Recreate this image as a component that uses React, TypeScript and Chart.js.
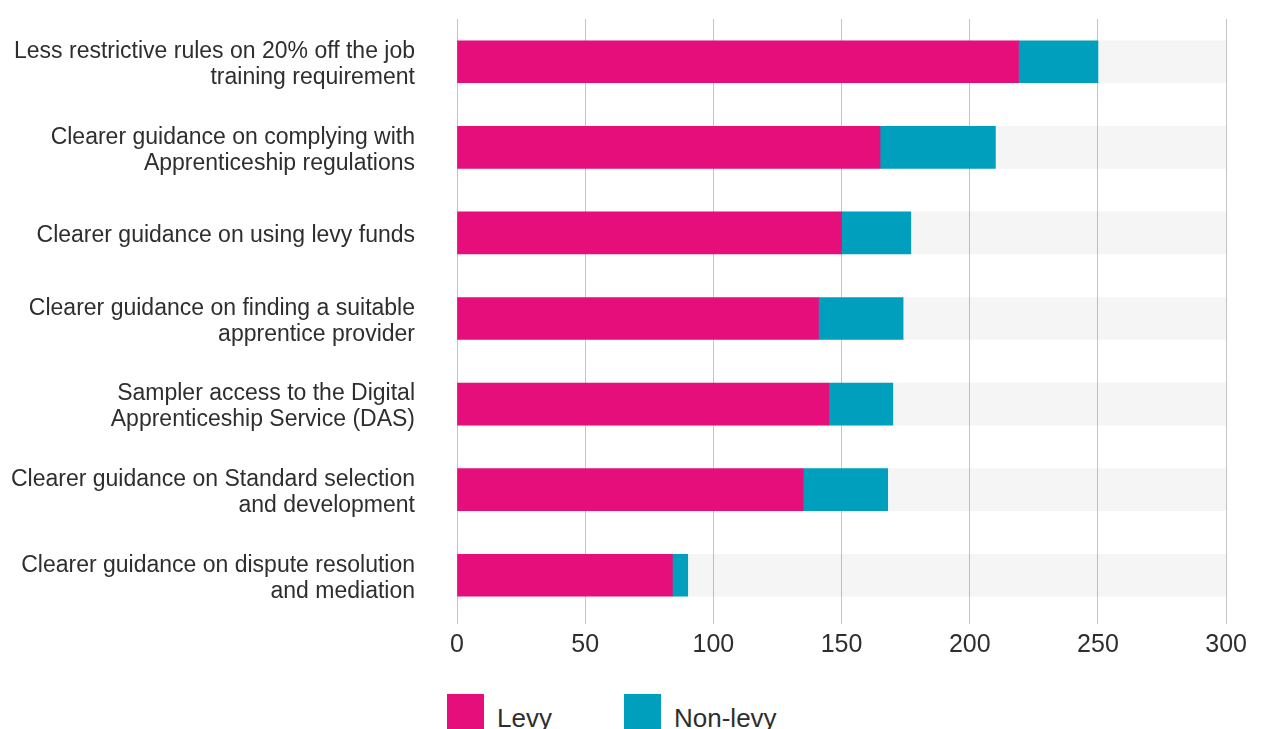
import React, { useEffect, useRef } from "react";
import { Chart, registerables } from "chart.js";

Chart.register(...registerables);

const categories: (string | string[])[] = [
  ["Less restrictive rules on 20% off the job", "training requirement"],
  ["Clearer guidance on complying with", "Apprenticeship regulations"],
  "Clearer guidance on using levy funds",
  ["Clearer guidance on finding a suitable", "apprentice provider"],
  ["Sampler access to the Digital", "Apprenticeship Service (DAS)"],
  ["Clearer guidance on Standard selection", "and development"],
  ["Clearer guidance on dispute resolution", "and mediation"],
];

const levy = [219, 165, 150, 141, 145, 135, 84];
const nonLevy = [31, 45, 27, 33, 25, 33, 6];
const trackMax = [300, 300, 300, 300, 300, 300, 300];

const xMin = 0;
const xMax = 300;
const xStep = 50;

const PINK = "#E50E7B";
const TEAL = "#009FBD";
const FONT = "'Liberation Sans', Arial, sans-serif";
const TEXT = "#2e2e2e";

export default function App() {
  const canvasRef = useRef<HTMLCanvasElement | null>(null);

  useEffect(() => {
    const ctx = canvasRef.current;
    if (!ctx) return;
    const chart = new Chart(ctx, {
      type: "bar",
      data: {
        labels: categories,
        datasets: [
          {
            label: "Levy",
            data: levy,
            backgroundColor: PINK,
            stack: "main",
            grouped: false,
            barThickness: 42,
            order: 1,
          },
          {
            label: "Non-levy",
            data: nonLevy,
            backgroundColor: TEAL,
            stack: "main",
            grouped: false,
            barThickness: 42,
            order: 1,
          },
          {
            label: "track",
            data: trackMax,
            backgroundColor: "rgba(0,0,0,0.04)",
            stack: "track",
            grouped: false,
            barThickness: 42,
            order: 10,
          },
        ],
      },
      options: {
        indexAxis: "y",
        responsive: true,
        maintainAspectRatio: false,
        animation: false,
        layout: { padding: { top: 11, right: 25, bottom: 2, left: 0 } },
        plugins: {
          legend: { display: false },
          tooltip: { enabled: false },
        },
        scales: {
          x: {
            type: "linear",
            min: xMin,
            max: xMax,
            stacked: true,
            border: { display: false },
            grid: {
              color: "#c4c4c4",
              lineWidth: 1,
              drawTicks: true,
              tickLength: 6,
              tickColor: "#c4c4c4",
            },
            ticks: {
              stepSize: xStep,
              padding: 6,
              color: TEXT,
              font: { family: FONT, size: 25 },
            },
          },
          y: {
            type: "category",
            stacked: true,
            offset: true,
            border: { display: false },
            grid: { display: false, drawTicks: false },
            ticks: {
              padding: 42,
              labelOffset: 3,
              color: TEXT,
              font: { family: FONT, size: 23, lineHeight: 1.13 },
            },
            afterFit: (scale: any) => {
              scale.width = 449;
              scale.paddingTop = 0;
              scale.paddingBottom = 0;
            },
          },
        },
      },
    });
    return () => chart.destroy();
  }, []);

  const legendItem = (color: string, text: string, left: number) => (
    <div
      style={{
        position: "absolute",
        left,
        top: 686,
        display: "flex",
        alignItems: "flex-start",
      }}
    >
      <div style={{ width: 37, height: 37, background: color }} />
      <span
        style={{
          marginLeft: 13,
          fontFamily: FONT,
          fontSize: 26,
          color: TEXT,
          lineHeight: "37px",
          position: "relative",
          top: 6,
        }}
      >
        {text}
      </span>
    </div>
  );

  return (
    <div style={{ position: "relative", width: 1245, height: 740 }}>
      <div style={{ position: "relative", width: 1245, height: 660 }}>
        <canvas ref={canvasRef} />
      </div>
      {legendItem(PINK, "Levy", 439)}
      {legendItem(TEAL, "Non-levy", 616)}
    </div>
  );
}
